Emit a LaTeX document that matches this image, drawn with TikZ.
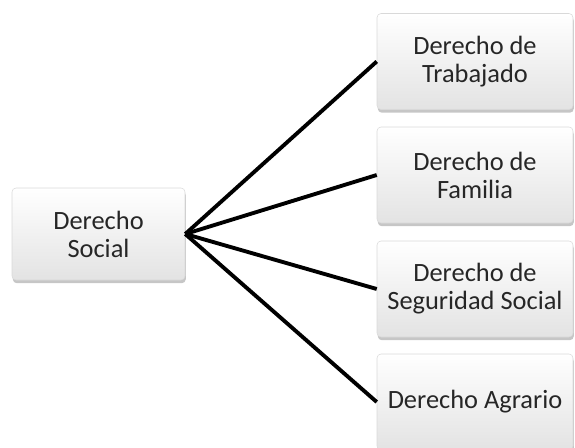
\documentclass[tikz,border=0pt]{standalone}
\usepackage{fontspec}
\setmainfont{Carlito}
\usetikzlibrary{shadows,positioning}

\tikzset{
	caja/.style={draw=gray!30, rounded corners=3pt, top color=white, bottom color=gray!22,
		drop shadow={opacity=0.45, shadow xshift=0.6pt, shadow yshift=-2.4pt},
		align=center, text=black!85, inner sep=0pt,
		font=\fontsize{19.8}{21}\selectfont},
	rama/.style={caja, minimum width=147pt, minimum height=72pt},
	linea/.style={line width=2.9pt, black}
}

\begin{document}
\begin{tikzpicture}[x=0.75pt,y=-0.75pt]
	\useasboundingbox (0,0) rectangle (575,447);
	
	\node[caja, minimum width=129.75pt, minimum height=69pt] (social) at (98.5,234) {Derecho\\Social};
	
	\node[rama] (trabajo) at (475,61.5) {Derecho de\\Trabajado};
	\node[rama] (familia) at (475,175) {Derecho de\\Familia};
	\node[rama] (seguridad) at (475,289) {Derecho de\\Seguridad Social};
	\node[rama] (agrario) at (475,402) {Derecho Agrario};
	
	\foreach \b in {trabajo,familia,seguridad,agrario}
	\draw[linea] (social.east) -- (\b.west);
	
\end{tikzpicture}
\end{document}
